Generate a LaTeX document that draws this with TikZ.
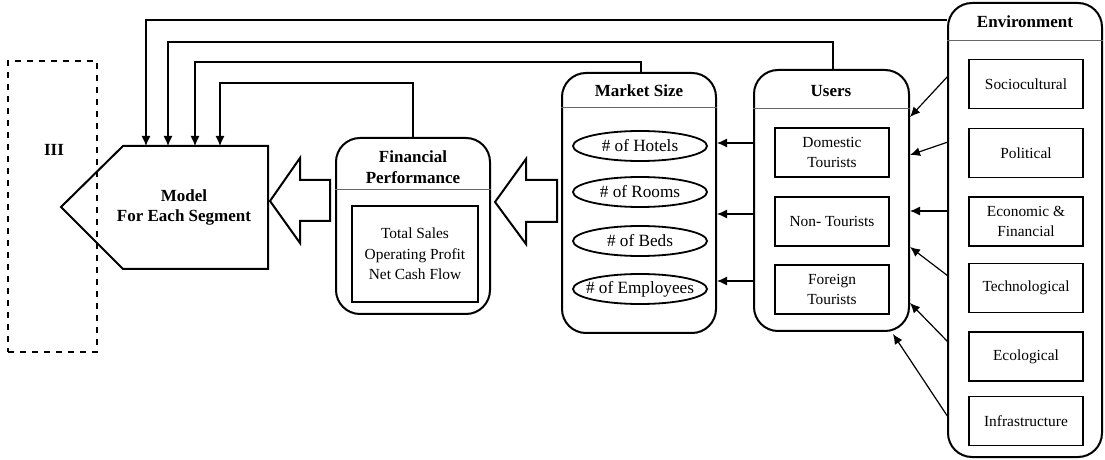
\documentclass[tikz,border=0pt]{standalone}
\usepackage{fontspec}
\setmainfont{Liberation Serif}
\usetikzlibrary{arrows.meta,shapes.geometric}
\begin{document}
\begin{tikzpicture}[x=0.5pt,y=-0.5pt,
  panel/.style={draw, line width=1pt, rounded corners=12pt, inner sep=0pt},
  item/.style={draw, line width=0.9pt, minimum width=57pt, minimum height=24.5pt, inner sep=0pt, align=center, font=\fontsize{7.7}{10.2}\selectfont},
  oval/.style={draw, ellipse, line width=0.9pt, minimum width=67pt, minimum height=15pt, inner xsep=-4.5pt, inner ysep=0pt, font=\fontsize{8.6}{10}\selectfont},
  ttl/.style={font=\bfseries\fontsize{8.5}{10.2}\selectfont, align=center, inner sep=0pt},
  conn/.style={line width=0.6pt, -{Latex[length=5pt,width=4.5pt]}},
  hollow/.style={draw, line width=1pt, fill=white, line join=miter},
  divider/.style={line width=0.5pt, draw=black!60}]
\useasboundingbox (0,0) rectangle (1105,460);

% dashed box III
\node[draw, dashed, line width=0.9pt, minimum width=44.5pt, minimum height=145.5pt, inner sep=0pt] (iii) at (52.5,206.5) {};
\node[ttl] (iiit) at (54,150) {III};

% model shape
\coordinate (mtl) at (123,146);
\coordinate (mtr) at (268,146);
\coordinate (mbr) at (268,269);
\coordinate (mbl) at (123,269);
\coordinate (mtip) at (61,207);
\draw[line width=1pt, line join=miter] (mtl) -- (mtr) -- (mbr) -- (mbl) -- (mtip) -- cycle;
\node[ttl] (model) at (184,207.5) {Model\\For Each Segment};
\coordinate (m1) at (146,146);
\coordinate (m2) at (168,146);
\coordinate (m3) at (195,146);
\coordinate (m4) at (220,146);

% panels
\node[panel, minimum width=77pt, minimum height=88pt] (fin) at (413,226) {};
\node[panel, minimum width=77pt, minimum height=130pt] (market) at (639,203) {};
\node[panel, minimum width=77.5pt, minimum height=130.5pt] (users) at (831.5,200.5) {};
\node[panel, minimum width=77pt, minimum height=227pt] (env) at (1025,230) {};

% dividers
\coordinate (fdiv) at (413,190);
\coordinate (mdiv) at (639,108);
\coordinate (udiv) at (831,109);
\coordinate (ediv) at (1025,41);
\draw[divider] (fin.west |- fdiv) -- (fin.east |- fdiv);
\draw[divider] (market.west |- mdiv) -- (market.east |- mdiv);
\draw[divider] (users.west |- udiv) -- (users.east |- udiv);
\draw[divider] (env.west |- ediv) -- (env.east |- ediv);

% titles
\node[ttl] (fint) at (413,167) {Financial\\Performance};
\node[ttl] (markett) at (639,91) {Market Size};
\node[ttl] (userst) at (831,91) {Users};
\node[ttl] (envt) at (1025,22) {Environment};

% financial inner
\node[item, minimum width=63pt, minimum height=48pt] (finbox) at (415,254) {Total Sales\\Operating Profit\\Net Cash Flow};

% ellipses
\node[oval] (hotels) at (640,146) {\# of Hotels};
\node[oval] (rooms) at (640,192) {\# of Rooms};
\node[oval] (beds) at (640,241) {\# of Beds};
\node[oval] (emp) at (640,289) {\# of Employees};

% users items
\node[item] (dom) at (832,152.5) {Domestic\\Tourists};
\node[item] (non) at (832,221.5) {Non- Tourists};
\node[item] (for) at (832,289.5) {Foreign\\Tourists};

% environment items
\node[item] (soc) at (1026,84) {Sociocultural};
\node[item] (pol) at (1026,153) {Political};
\node[item] (eco) at (1026,221.5) {Economic \&\\Financial};
\node[item] (tec) at (1026,288) {Technological};
\node[item] (ecl) at (1026,356.5) {Ecological};
\node[item] (inf) at (1026,421) {Infrastructure};

% hollow arrows
\draw[hollow] (270,201) -- (300,158) -- (300,180) -- (330,180) -- (330,221) -- (300,221) -- (300,243) -- cycle;
\draw[hollow] (495,202) -- (526,159) -- (526,180) -- (557,180) -- (557,222) -- (526,222) -- (526,244) -- cycle;

% feedback lines to model
\coordinate (e20) at (1000,20);
\draw[conn] (env.west |- e20) -| (m1);
\draw[conn] (833,70) -- (833,42) -| (m2);
\draw[conn] (641,73) -- (641,62) -| (m3);
\draw[conn] (fin.north) -- ++(0,-54) -| (m4);

% users -> market
\coordinate (a1) at (0,143);
\coordinate (a2) at (0,214);
\coordinate (a3) at (0,281);
\draw[conn] (users.west |- a1) -- (market.east |- a1);
\draw[conn] (users.west |- a2) -- (market.east |- a2);
\draw[conn] (users.west |- a3) -- (market.east |- a3);

% environment -> users
\coordinate (s1) at (948,76);   \coordinate (t1) at (910,117);
\coordinate (s2) at (948,142);  \coordinate (t2) at (910,155);
\coordinate (s3) at (948,211);  \coordinate (t3) at (910,211);
\coordinate (s4) at (948,276);  \coordinate (t4) at (910,247);
\coordinate (s5) at (948,342);  \coordinate (t5) at (910,303);
\coordinate (s6) at (948,417);  \coordinate (t6) at (893,334);
\foreach \i in {1,...,6} {\draw[conn] (s\i) -- (t\i);}
\end{tikzpicture}
\end{document}
